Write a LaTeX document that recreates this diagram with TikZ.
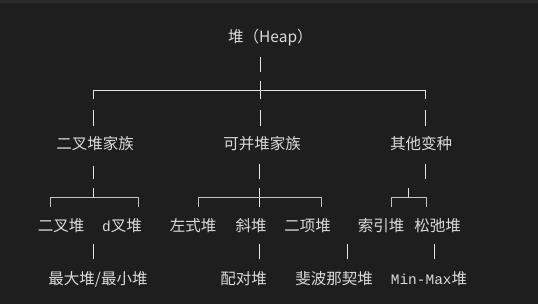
\documentclass[tikz,border=0pt]{standalone}
\usepackage{fontspec}
\setmainfont{Noto Sans CJK SC}
\newfontfamily\cjk{Noto Sans CJK SC}
\newfontfamily\monof{Liberation Mono}
\definecolor{bg}{HTML}{1E1E1E}
\definecolor{topbar}{HTML}{2B2B2E}
\definecolor{txt}{HTML}{DADADA}
\definecolor{ln}{HTML}{E6E6E6}
\begin{document}
\begin{tikzpicture}[x=1pt,y=-1pt,
  lbl/.style={text=txt,inner sep=0pt,anchor=base,font=\cjk\fontsize{15.5}{18}\selectfont},
  seg/.style={draw=ln,line width=1pt},
  brk/.style={draw=ln!85!black,line width=1pt}]
\useasboundingbox (0,0) rectangle (538,304);
\fill[bg] (0,0) rectangle (538,304);
\fill[topbar] (0,0) rectangle (538,3);
% root
\node[lbl,anchor=base west] (root) at (228,43) {堆（Heap）};
% level 1
\node[lbl] (bin) at (95,150) {二叉堆家族};
\node[lbl] (mer) at (262,150) {可并堆家族};
\node[lbl] (oth) at (421,150) {其他变种};
% level 2
\node[lbl] (bh) at (61,232) {二叉堆};
\node[lbl] (dh) at (122,232) {{\monof\fontsize{14.5}{18}\selectfont d}叉堆};
\node[lbl] (lh) at (193,232) {左式堆};
\node[lbl] (sh) at (251,232) {斜堆};
\node[lbl] (bn) at (307.5,232) {二项堆};
\node[lbl] (ih) at (381,232) {索引堆};
\node[lbl] (rh) at (437.5,232) {松弛堆};
% level 3
\node[lbl] (mm) at (98,285) {最大堆/最小堆};
\node[lbl] (ph) at (243.5,285) {配对堆};
\node[lbl] (fh) at (334,285) {斐波那契堆};
\node[lbl] (mx) at (429,285) {{\monof\fontsize{14.5}{18}\selectfont Min-Max}堆};
% root to level 1
\draw[seg] (260,57) -- (260,72);
\draw[seg] (260,81) -- (260,99);
\draw[seg] (93.3,99) -- (93.3,90.3) -- (425.7,90.3) -- (425.7,99);
\draw[seg] (93.3,110) -- (93.3,126);
\draw[seg] (260,110) -- (260,126);
\draw[seg] (425.7,110) -- (425.7,126);
% level 1 to level 2
\draw[seg] (93.3,166) -- (93.3,179);
\draw[seg] (259.5,164) -- (259.5,179);
\draw[seg] (425.7,164) -- (425.7,179);
\draw[seg] (93.3,188) -- (93.3,197.7);
\draw[seg] (259.5,188) -- (259.5,207);
\draw[seg] (408,188) -- (408,197.7);
\draw[brk] (50,207) -- (50,197.7) -- (138,197.7) -- (138,207);
\draw[brk] (198,207) -- (198,197.7) -- (321,197.7) -- (321,207);
\draw[brk] (391,207) -- (391,197.7) -- (426,197.7) -- (426,207);
% level 2 to level 3
\draw[seg] (93.3,244) -- (93.3,259.3);
\draw[seg] (259.5,244) -- (259.5,259.3);
\draw[seg] (347.3,244) -- (347.3,259.3);
\draw[seg] (434.3,244) -- (434.3,259.3);
\end{tikzpicture}
\end{document}
